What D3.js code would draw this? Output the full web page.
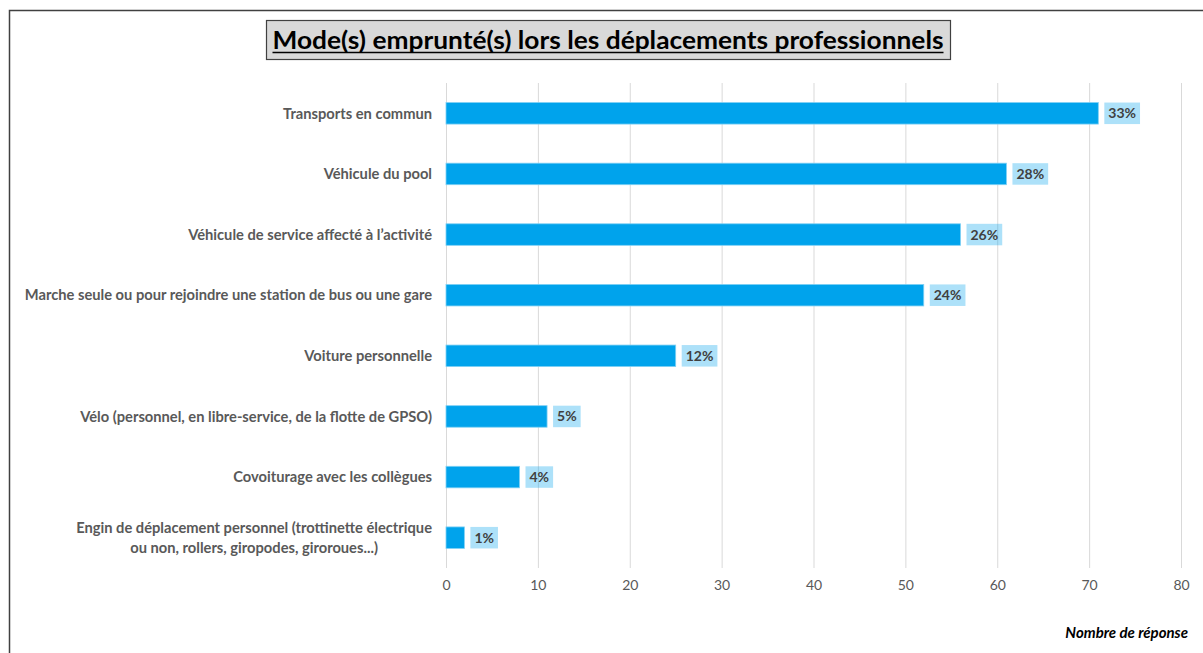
<!DOCTYPE html>
<html>
<head>
<meta charset="utf-8">
<script src="https://cdn.jsdelivr.net/npm/d3@7"></script>
<style>
  body { margin: 0; background: #fff; }
  svg { display: block; font-family: Lato, "Open Sans", sans-serif; }
</style>
</head>
<body>
<div id="chart"></div>
<script>
// Data
var titleText = "Mode(s) emprunté(s) lors les déplacements professionnels";
var categories = [
  "Transports en commun",
  "Véhicule du pool",
  "Véhicule de service affecté à l’activité ",
  "Marche seule ou pour rejoindre une station de bus ou une gare",
  "Voiture personnelle",
  "Vélo (personnel, en libre-service, de la flotte de GPSO)",
  "Covoiturage avec les collègues",
  "Engin de déplacement personnel (trottinette électrique|ou non, rollers, giropodes, giroroues...)"
];
var responses = [71, 61, 56, 52, 25, 11, 8, 2];
var percents = ["33%", "28%", "26%", "24%", "12%", "5%", "4%", "1%"];
var xTicks = [0, 10, 20, 30, 40, 50, 60, 70, 80];
var xAxisTitle = "Nombre de réponse";

var width = 1203;
var height = 653;

var svg = d3.select("#chart")
    .append("svg")
    .attr("width", width)
    .attr("height", height);

// outer frame (cut off at right and bottom)
svg.append("rect")
    .attr("x", 9.5)
    .attr("y", 10.5)
    .attr("width", 1300)
    .attr("height", 800)
    .attr("fill", "none")
    .attr("stroke", "#404040")
    .attr("stroke-width", 1.5);

// scales
var x = d3.scaleLinear()
    .domain([0, 80])
    .range([446, 1181]);

var y = d3.scaleBand()
    .domain(categories)
    .range([83, 568])
    .paddingInner(0.645)
    .paddingOuter(0.3225);

// gridlines + tick labels
var xAxis = d3.axisBottom(x)
    .tickValues(xTicks)
    .tickSize(-(568 - 83))
    .tickPadding(12);

var axisG = svg.append("g")
    .attr("transform", "translate(0,568)")
    .call(xAxis);
axisG.select(".domain").remove();
axisG.selectAll(".tick line")
    .attr("stroke", "#d9d9d9")
    .attr("stroke-width", 1);
axisG.selectAll(".tick text")
    .attr("fill", "#595959")
    .style("font-size", "14px")
    .style("font-family", "Lato, sans-serif");

// bars
svg.selectAll("rect.bar")
    .data(responses)
    .enter()
    .append("rect")
    .attr("class", "bar")
    .attr("x", x(0))
    .attr("y", (d, i) => y(categories[i]))
    .attr("width", d => x(d) - x(0))
    .attr("height", y.bandwidth())
    .attr("fill", "#00a3ec")
    .attr("stroke", "#7fd0f4")
    .attr("stroke-width", 0.8);

// percent labels with light box
var lab = svg.selectAll("g.lab")
    .data(responses)
    .enter()
    .append("g")
    .attr("class", "lab");

lab.each(function(d, i) {
  var g = d3.select(this);
  var bx = x(d) + 6;
  var by = y(categories[i]);
  var box = g.append("rect")
      .attr("x", bx)
      .attr("y", by)
      .attr("height", y.bandwidth())
      .attr("fill", "#00a3ec")
      .attr("fill-opacity", 0.32);
  var t = g.append("text")
      .attr("y", by + y.bandwidth() / 2)
      .attr("dy", "0.36em")
      .attr("text-anchor", "middle")
      .attr("fill", "#404040")
      .style("font-size", "14px")
      .style("font-weight", "bold")
      .text(percents[i]);
  var w = t.node().getComputedTextLength() + 8;
  box.attr("width", w);
  t.attr("x", bx + w / 2);
});

// category labels
var labelRight = 432;
categories.forEach(function(c, i) {
  var lines = c.split("|");
  var cy = y(c) + y.bandwidth() / 2;
  var t = svg.append("text")
      .attr("fill", "#595959")
      .style("font-size", "14.7px")
      .style("font-weight", "bold");
  if (lines.length === 1) {
    t.attr("x", labelRight)
      .attr("y", cy)
      .attr("dy", "0.36em")
      .attr("text-anchor", "end")
      .text(c);
  } else {
    var spans = t.selectAll("tspan")
        .data(lines)
        .enter()
        .append("tspan")
        .attr("y", (d, k) => cy + (k - (lines.length - 1) / 2) * 20)
        .attr("dy", "0.36em")
        .attr("text-anchor", "middle")
        .text(d => d);
    var maxW = d3.max(spans.nodes(), n => n.getComputedTextLength());
    spans.attr("x", labelRight - maxW / 2);
  }
});

// title box
svg.append("rect")
    .attr("x", 266.5)
    .attr("y", 20.5)
    .attr("width", 684)
    .attr("height", 39)
    .attr("fill", "#d9d9d9")
    .attr("stroke", "#404040")
    .attr("stroke-width", 1.2);

var title = svg.append("text")
    .attr("x", 608)
    .attr("y", 49)
    .attr("text-anchor", "middle")
    .attr("fill", "#000")
    .style("font-size", "24px")
    .style("font-weight", "bold")
    .text(titleText);
var tw = title.node().getComputedTextLength();
if (Math.abs(tw - 671) > 4) {
  title.attr("textLength", 671).attr("lengthAdjust", "spacingAndGlyphs");
}
svg.append("line")
    .attr("x1", 608 - 671 / 2)
    .attr("x2", 608 + 671 / 2)
    .attr("y1", 52.5)
    .attr("y2", 52.5)
    .attr("stroke", "#000")
    .attr("stroke-width", 1.5);

// axis title
svg.append("text")
    .attr("x", 1188)
    .attr("y", 638)
    .attr("text-anchor", "end")
    .attr("fill", "#000")
    .style("font-size", "15px")
    .style("font-weight", "bold")
    .style("font-style", "italic")
    .text(xAxisTitle);
</script>
</body>
</html>
